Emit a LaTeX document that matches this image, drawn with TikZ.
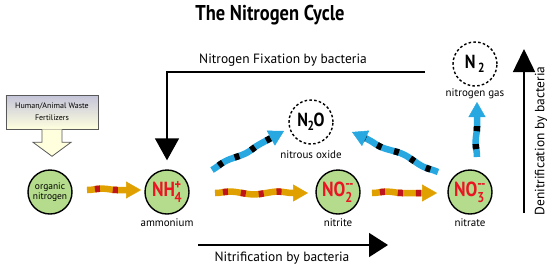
\documentclass[tikz,border=0pt]{standalone}
\usepackage{amsmath}
\usepackage{fontspec}
\setmainfont{PT Sans}
\newfontfamily\condfont{PT Sans}[FakeStretch=0.86]
\usetikzlibrary{arrows.meta,decorations.pathmorphing,calc}
\definecolor{cgreen}{RGB}{180,220,140}
\definecolor{corange}{RGB}{224,160,0}
\definecolor{cstripe}{RGB}{190,20,30}
\definecolor{cblue}{RGB}{40,168,224}
\definecolor{cred}{RGB}{235,20,35}
\definecolor{cboxtop}{RGB}{196,196,218}
\definecolor{cboxbot}{RGB}{255,255,222}
\newcommand\wavyarr[4]{%
  \coordinate (wtmp) at ($(#2)!14bp!(#1)$);
  \draw[line width=6.5bp, #3, decorate, decoration={snake,amplitude=1.4bp,segment length=48bp}] (#1) -- (wtmp);
  \draw[line width=6.5bp, #4, dash pattern=on 5bp off 13bp, dash phase=-8bp, decorate, decoration={snake,amplitude=1.4bp,segment length=48bp}] (#1) -- (wtmp);
  \draw[#3, line width=0.5bp, -{Triangle[length=15bp,width=17bp]}] ($(wtmp)!1bp!(#1)$) -- (#2);
}
\begin{document}
\begin{tikzpicture}[x=1bp,y=-1bp,
  species/.style={circle, draw=black, line width=1.4bp, fill=cgreen, minimum size=44bp, inner sep=0pt},
  gasnode/.style={circle, draw=black, dash pattern=on 2.6bp off 2.2bp, line width=1.4bp, minimum size=44bp, inner sep=0pt, font=\fontsize{19}{20}\condfont\bfseries},
  lbl/.style={font=\fontsize{11}{12}\selectfont, inner sep=0},
  formula/.style={font=\fontsize{20.5}{21}\condfont\bfseries, text=cred},
  bigline/.style={line width=1.5bp},
  procl/.style={font=\fontsize{13.5}{15}\selectfont, inner sep=0},
]
\useasboundingbox (0,0) rectangle (550,266);

\node[font=\fontsize{21.5}{23}\condfont\bfseries] (title) at (270,15) {The Nitrogen Cycle};

% box and hollow arrow
\node[draw=black!65, line width=0.6bp, top color=cboxtop, bottom color=cboxbot, minimum width=92bp, minimum height=34bp, align=center, font=\fontsize{8}{12}\selectfont, inner sep=0] (waste) at (52,112) {Human/Animal Waste\\Fertilizers};
\draw[draw=black!65, line width=0.8bp, fill=cboxbot] ($(waste.south)+(-10,0)$) -- ++(0,13) -- ++(-9,0) -- ($(waste.south)+(0,27)$) -- ($(waste.south)+(19,13)$) -- ++(-9,0) -- ($(waste.south)+(10,0)$);

% species
\node[species, align=center, font=\fontsize{9.5}{10.5}\selectfont] (org) at (50,192) {organic\\nitrogen};
\node[species, formula] (nh4) at (167,192) {NH\kern-0.5bp$^{\text{+}}_{\text{4}}$};
\node[species, formula] (no2) at (338,192) {NO$^{\text{--}}_{\text{2}}$};
\node[species, formula] (no3) at (470,192) {NO$^{\text{--}}_{\text{3}}$};
\node[lbl] (lam) at (167,223) {ammonium};
\node[lbl] (lni) at (338,223) {nitrite};
\node[lbl] (lna) at (470,223) {nitrate};

% gases
\node[gasnode] (n2o) at (311,122) {N\kern-0.5bp$_{\text{2}}$\kern-1bp O};
\node[lbl] (lno) at (311,155) {nitrous oxide};
\node[gasnode] (n2) at (475,64) {N$_{\,\text{2}}$};
\node[lbl] (lng) at (475,94) {nitrogen gas};

% wavy arrows
\coordinate (a1s) at (87,190); \coordinate (a1e) at (141,190);
\coordinate (a2s) at (215,193); \coordinate (a2e) at (308,193);
\coordinate (a3s) at (372,193); \coordinate (a3e) at (437,193);
\coordinate (b1s) at (212,170); \coordinate (b1e) at (284,131);
\coordinate (b2s) at (438,172); \coordinate (b2e) at (352,132);
\coordinate (b3s) at (477,157); \coordinate (b3e) at (477,102);
\wavyarr{a1s}{a1e}{corange}{cstripe}
\wavyarr{a2s}{a2e}{corange}{cstripe}
\wavyarr{a3s}{a3e}{corange}{cstripe}
\wavyarr{b1s}{b1e}{cblue}{black}
\wavyarr{b2s}{b2e}{cblue}{black}
\wavyarr{b3s}{b3e}{cblue}{black}

% process arrows
\coordinate (fixR) at (425,72);
\draw[bigline, -{Triangle[length=22bp,width=24bp]}, shorten >=9bp] (fixR) -| (nh4);
\node[procl] (fixl) at (283,60) {Nitrogen Fixation by bacteria};

\coordinate (nitS) at (198,245); \coordinate (nitE) at (388,245);
\draw[bigline, -{Triangle[length=19bp,width=24bp]}] (nitS) -- (nitE);
\node[procl] (nitl) at (282,258) {Nitrification by bacteria};

\coordinate (denS) at (524,213); \coordinate (denE) at (524,49);
\draw[bigline, -{Triangle[length=23bp,width=22bp]}] (denS) -- (denE);
\node[procl, rotate=90] (denl) at (541,141) {Denitrification by bacteria};
\end{tikzpicture}
\end{document}
